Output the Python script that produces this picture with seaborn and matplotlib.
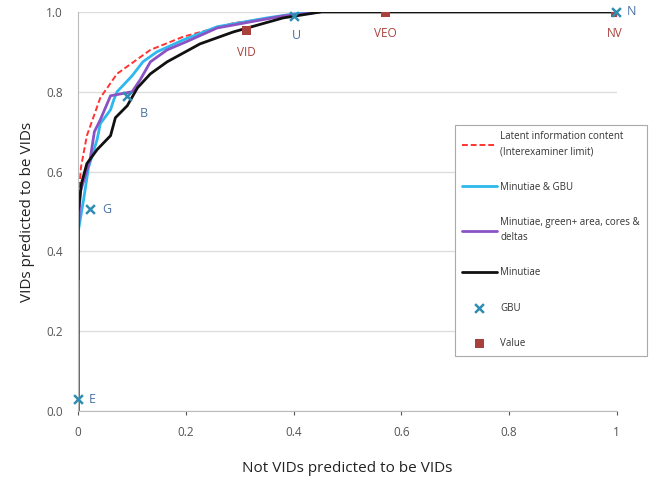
import pandas as pd
import numpy as np
import matplotlib.pyplot as plt
import seaborn as sns

# Curve data
latent_x = [0.0, 0.0006, 0.005, 0.016, 0.041, 0.072, 0.134, 0.195, 0.288, 0.38, 0.45, 1.0]
latent_y = [0.45, 0.53, 0.61, 0.69, 0.785, 0.845, 0.905, 0.938, 0.972, 0.99, 1.0, 1.0]

gbu_x = [0.0, 0.0, 0.01, 0.019, 0.035, 0.041, 0.06, 0.066, 0.072, 0.10, 0.12, 0.146, 0.195, 0.258, 0.35, 0.41, 0.45]
gbu_y = [0.40, 0.45, 0.53, 0.61, 0.68, 0.72, 0.755, 0.78, 0.80, 0.84, 0.875, 0.90, 0.93, 0.963, 0.985, 0.997, 1.0]

area_x = [0.0, 0.0, 0.004, 0.022, 0.03, 0.041, 0.06, 0.10, 0.115, 0.134, 0.165, 0.2, 0.258, 0.38, 0.45]
area_y = [0.33, 0.45, 0.55, 0.63, 0.70, 0.73, 0.79, 0.80, 0.83, 0.875, 0.905, 0.925, 0.96, 0.99, 1.0]

min_x = [0.0, 0.0, 0.006, 0.016, 0.035, 0.06, 0.069, 0.091, 0.11, 0.134, 0.165, 0.226, 0.288, 0.38, 0.45, 1.0]
min_y = [0.0, 0.50, 0.57, 0.62, 0.655, 0.69, 0.735, 0.765, 0.81, 0.845, 0.875, 0.92, 0.95, 0.985, 1.0, 1.0]

# GBU points
gbu_pt_labels = ['E', 'G', 'B', 'U', 'N']
gbu_pt_x = [0.0, 0.022, 0.091, 0.40, 0.998]
gbu_pt_y = [0.03, 0.505, 0.79, 0.99, 1.0]

# Value points
val_labels = ['VID', 'VEO', 'NV']
val_x = [0.313, 0.57, 0.997]
val_y = [0.953, 1.0, 1.0]

sns.set_style('white')
plt.rcParams['font.family'] = ['Open Sans', 'DejaVu Sans']

fig = plt.figure(figsize=(6.52, 4.79), dpi=100)
ax = fig.add_axes([0.12, 0.142, 0.826, 0.833])

c_red = '#FF3333'
c_cyan = '#2DB8EE'
c_purple = '#8B52C4'
c_black = '#111111'
c_teal = '#2F8DB3'
c_brown = '#A8413C'

curves = [
    (latent_x, latent_y, 'Latent information content\n(Interexaminer limit)', c_red, (0, (3, 1.5)), 1.4),
    (gbu_x, gbu_y, 'Minutiae & GBU', c_cyan, '-', 2.0),
    (area_x, area_y, 'Minutiae, green+ area, cores &\ndeltas', c_purple, '-', 2.0),
    (min_x, min_y, 'Minutiae', c_black, '-', 2.0),
]
for xs, ys, lab, col, ls, lw in curves:
    d = pd.DataFrame({'x': xs, 'y': ys})
    sns.lineplot(data=d, x='x', y='y', sort=False, estimator=None, ax=ax,
                 color=col, linestyle=ls, linewidth=lw, label=lab)

dv = pd.DataFrame({'x': val_x, 'y': val_y})
sns.scatterplot(data=dv, x='x', y='y', marker='s', s=45, color=c_brown,
                edgecolor='none', ax=ax, label='Value', zorder=5)
dg = pd.DataFrame({'x': gbu_pt_x, 'y': gbu_pt_y})
sns.scatterplot(data=dg, x='x', y='y', marker='x', s=40, color=c_teal,
                linewidth=1.8, ax=ax, label='GBU', zorder=6, clip_on=False)

# Point labels
gbu_pos = {'E': (0.02, 0.03), 'G': (0.045, 0.505), 'B': (0.115, 0.745), 'U': (0.405, 0.94), 'N': (1.018, 1.0)}
for lab in gbu_pt_labels:
    px, py = gbu_pos[lab]
    ha = 'center' if lab == 'U' else 'left'
    ax.text(px, py, lab, color='#4A72A8', fontsize=9, ha=ha, va='center', clip_on=False)
for lab, x, y in zip(val_labels, val_x, val_y):
    ax.text(x, y - 0.055, lab, color=c_brown, fontsize=8.5, ha='center', va='center')

ax.set_xlim(0, 1)
ax.set_ylim(0, 1)
ax.set_xticks([0, 0.2, 0.4, 0.6, 0.8, 1.0])
ax.set_xticklabels(['0', '0.2', '0.4', '0.6', '0.8', '1'])
ax.set_yticks([0, 0.2, 0.4, 0.6, 0.8, 1.0])
ax.set_yticklabels(['0.0', '0.2', '0.4', '0.6', '0.8', '1.0'])
ax.tick_params(axis='both', labelsize=8.5, colors='#555555', length=3, pad=8)
ax.tick_params(axis='x', direction='out', bottom=True)
ax.yaxis.grid(True, color='#DDDDDD', linewidth=1)
ax.xaxis.grid(False)
for s in ['top', 'right']:
    ax.spines[s].set_visible(False)
for s in ['left', 'bottom']:
    ax.spines[s].set_color('#BBBBBB')
ax.set_xlabel('Not VIDs predicted to be VIDs', fontsize=11, color='#222222', labelpad=16)
ax.set_ylabel('VIDs predicted to be VIDs', fontsize=11, color='#222222', labelpad=8)

handles, labels = ax.get_legend_handles_labels()
order = [0, 1, 2, 3, 5, 4]
ax.get_legend().remove()
leg = fig.legend([handles[i] for i in order], [labels[i] for i in order],
                 loc='upper left', bbox_to_anchor=(0.698, 0.740), fontsize=7,
                 frameon=True, fancybox=False, edgecolor='#AAAAAA', framealpha=1,
                 labelspacing=2.5, handlelength=3.6, handletextpad=0.35,
                 borderpad=0.7, borderaxespad=0)
leg.get_frame().set_linewidth(0.8)
for t in leg.get_texts():
    t.set_color('#333333')
    t.set_linespacing(1.5)

fig.savefig('out.png', dpi=100)
